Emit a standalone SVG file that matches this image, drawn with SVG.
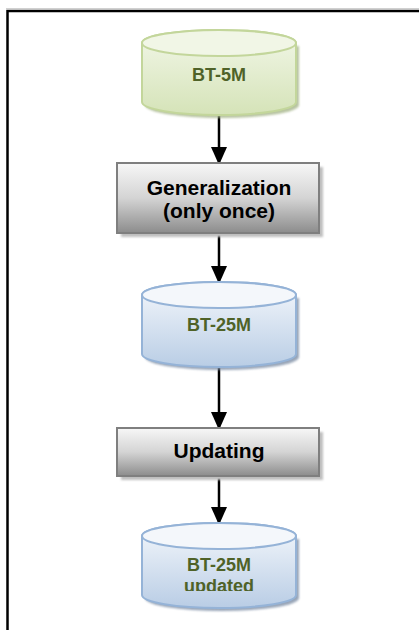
<svg xmlns="http://www.w3.org/2000/svg" width="419" height="630" viewBox="0 0 419 630">
<style>
.lbl{font-family:"Liberation Sans",Arial,sans-serif;font-weight:bold;text-anchor:middle}
.dbt{fill:#4F6228;font-size:18px}
.box{fill:url(#gBox);stroke:#7f7f7f;stroke-width:2}
.boxs{fill:#bfbfbf}
.btx{fill:#000;font-size:21px}
.con{stroke:#000;stroke-width:2.5;fill:none;marker-end:url(#ah)}
</style>
<defs>
<linearGradient id="gGreen" x1="0" y1="0" x2="0" y2="1">
<stop offset="0" stop-color="#f2f7e8"/><stop offset="1" stop-color="#d5e3b8"/>
</linearGradient>
<linearGradient id="gBlue" x1="0" y1="0" x2="0" y2="1">
<stop offset="0" stop-color="#f5f8fc"/><stop offset="1" stop-color="#b9cde5"/>
</linearGradient>
<linearGradient id="gBox" x1="0" y1="0" x2="0" y2="1">
<stop offset="0" stop-color="#f7f7f7"/><stop offset="0.5" stop-color="#d4d4d4"/><stop offset="1" stop-color="#8c8c8c"/>
</linearGradient>
<filter id="blur" x="-10%" y="-10%" width="120%" height="120%"><feGaussianBlur stdDeviation="1.2"/></filter>
<marker id="ah" viewBox="0 0 16 20" refX="16" refY="8" markerWidth="16" markerHeight="20" markerUnits="userSpaceOnUse" orient="auto">
<path d="M0,0 L18,8 L0,16 Z" fill="#000"/>
</marker>
<clipPath id="clip3"><rect x="140" y="520" width="160" height="71"/></clipPath>
</defs>

<path d="M7.5,630 V11 H419" fill="none" stroke="#000" stroke-width="2.5"/>
<path d="M6,8.5 H419" fill="none" stroke="#d0d0d0" stroke-width="1"/>

<g id="connectors">
<line class="con" x1="219" y1="115" x2="219" y2="163"/>
<line class="con" x1="219" y1="233" x2="219" y2="282"/>
<line class="con" x1="219" y1="368" x2="219" y2="428"/>
<line class="con" x1="219" y1="477" x2="219" y2="523"/>
</g>

<g id="bt5m">
<path d="M145,46 V105 A77,13 0 0 0 299,105 V46 Z" fill="#a6b58a" filter="url(#blur)" opacity="0.8"/>
<path d="M142,43 V102 A77,13 0 0 0 296,102 V43 A77,13 0 0 0 142,43 Z" fill="url(#gGreen)" stroke="#c3d69b" stroke-width="2"/>
<ellipse cx="219" cy="43" rx="77" ry="13" fill="#f1f6e6" stroke="#c3d69b" stroke-width="2"/>
<text class="lbl dbt" x="219" y="81">BT-5M</text>
</g>

<g id="generalization">
<rect x="121" y="167" width="202" height="70" class="boxs" filter="url(#blur)"/>
<rect x="117" y="163" width="202" height="70" class="box"/>
<text class="lbl btx" x="219" y="195">Generalization</text>
<text class="lbl btx" x="219" y="218">(only once)</text>
</g>

<g id="bt25m">
<path d="M145,298 V357 A77,13 0 0 0 299,357 V298 Z" fill="#7f8fa6" filter="url(#blur)" opacity="0.8"/>
<path d="M142,295 V354 A77,13 0 0 0 296,354 V295 A77,13 0 0 0 142,295 Z" fill="url(#gBlue)" stroke="#95b3d7" stroke-width="2"/>
<ellipse cx="219" cy="295" rx="77" ry="13" fill="#f4f7fb" stroke="#95b3d7" stroke-width="2"/>
<text class="lbl dbt" x="219" y="331">BT-25M</text>
</g>

<g id="updating">
<rect x="121" y="432" width="202" height="48" class="boxs" filter="url(#blur)"/>
<rect x="117" y="428" width="202" height="48" class="box"/>
<text class="lbl btx" x="219" y="458">Updating</text>
</g>

<g id="bt25m-updated">
<path d="M145,539 V598 A77,13 0 0 0 299,598 V539 Z" fill="#7f8fa6" filter="url(#blur)" opacity="0.8"/>
<path d="M142,536 V595 A77,13 0 0 0 296,595 V536 A77,13 0 0 0 142,536 Z" fill="url(#gBlue)" stroke="#95b3d7" stroke-width="2"/>
<ellipse cx="219" cy="536" rx="77" ry="13" fill="#f4f7fb" stroke="#95b3d7" stroke-width="2"/>
<g clip-path="url(#clip3)">
<text class="lbl dbt" x="219" y="571">BT-25M</text>
<text class="lbl dbt" x="219" y="592">updated</text>
</g>
</g>
</svg>
